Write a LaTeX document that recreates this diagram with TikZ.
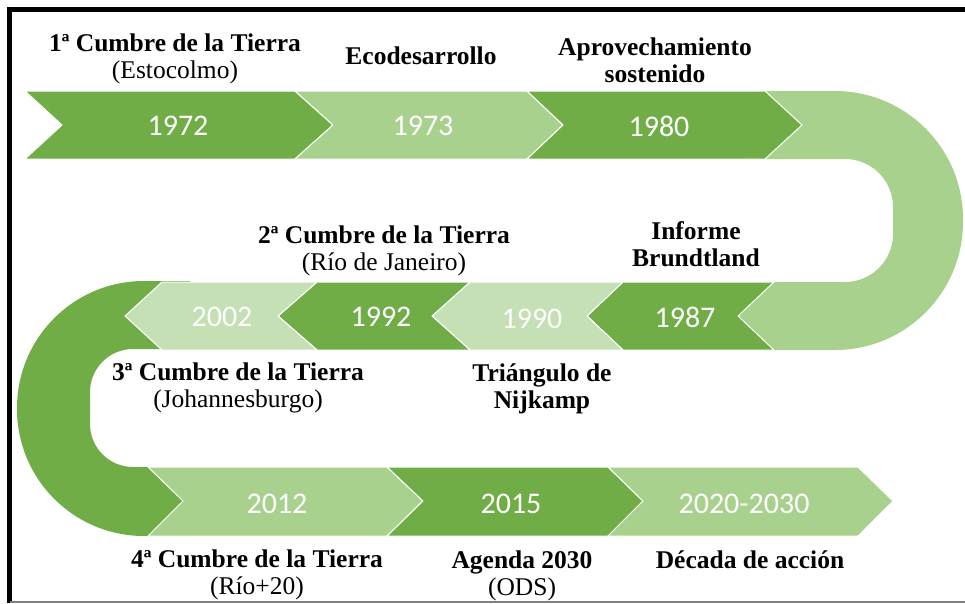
\documentclass[tikz,border=0pt]{standalone}
\usepackage{fontspec}
\setmainfont{Liberation Serif}
\newfontfamily\carlito{Carlito}
\definecolor{verdeosc}{HTML}{70AD47}
\definecolor{verdeclaro}{HTML}{A9D18E}
\definecolor{verdepal}{HTML}{C5E0B4}
\begin{document}
\begin{tikzpicture}[
    x=1pt, y=-1pt,
    oscuro/.style={fill=verdeosc, draw=white, line width=1pt, line join=miter},
    claro/.style={fill=verdeclaro, draw=white, line width=1pt, line join=miter},
    palido/.style={fill=verdepal, draw=white, line width=1pt, line join=miter},
    anio/.style={text=white, inner sep=0pt, font=\carlito\fontsize{30}{36}\selectfont},
    hito/.style={align=center, anchor=base, inner sep=0pt, font=\fontsize{25.5}{26.5}\selectfont\bfseries}
]
\useasboundingbox (0,0) rectangle (965,603);

% Marco
\draw[line width=4.5pt] (9.5,603) -- (9.5,9.5) -- (965,9.5);
\draw[gray, line width=1.5pt] (9.5,602) -- (965,602);

% Curva derecha
\begin{scope}
\clip (740,80) rectangle (965,360);
\fill[verdeclaro, even odd rule, rounded corners=128pt] (560,91) rectangle (963,350)
    [rounded corners=48pt] (560,159) rectangle (893,282);
\end{scope}

% Curva izquierda
\begin{scope}
\clip (0,270) rectangle (190,545);
\fill[verdeosc, even odd rule, rounded corners=127pt] (17,281) rectangle (420,536)
    [rounded corners=43pt] (90,349) rectangle (420,467);
\end{scope}

% Fila superior
\filldraw[oscuro] (25,91) -- (295,91) -- (333,125) -- (295,159) -- (25,159) -- (62,125) -- cycle;
\filldraw[claro] (295,91) -- (527,91) -- (563,125) -- (527,159) -- (295,159) -- (333,125) -- cycle;
\filldraw[oscuro] (527,91) -- (765,91) -- (802,125) -- (765,159) -- (527,159) -- (563,125) -- cycle;

% Fila central (hacia la izquierda)
\filldraw[oscuro] (587,316) -- (623,282) -- (774,282) -- (738,316) -- (774,350) -- (623,350) -- cycle;
\filldraw[palido] (432,316) -- (470,282) -- (623,282) -- (587,316) -- (623,350) -- (470,350) -- cycle;
\filldraw[oscuro] (278,316) -- (317,282) -- (470,282) -- (432,316) -- (470,350) -- (317,350) -- cycle;
\filldraw[palido] (125,316) -- (162,282) -- (317,282) -- (278,316) -- (317,350) -- (162,350) -- cycle;

% Fila inferior
\filldraw[claro] (148,467) -- (387,467) -- (423,501) -- (387,536) -- (148,536) -- (183,501) -- cycle;
\filldraw[oscuro] (387,467) -- (608,467) -- (643,501) -- (608,536) -- (387,536) -- (423,501) -- cycle;
\filldraw[claro] (608,467) -- (858,467) -- (893,501) -- (858,536) -- (608,536) -- (643,501) -- cycle;

% Años
\node[anio] (a1972) at (178,126) {1972};
\node[anio] (a1973) at (423,126) {1973};
\node[anio] (a1980) at (659,126) {1980};
\node[anio] (a1987) at (685,317) {1987};
\node[anio] (a1990) at (532,319) {1990};
\node[anio] (a1992) at (381,317) {1992};
\node[anio] (a2002) at (222,317) {2002};
\node[anio] (a2012) at (277,504) {2012};
\node[anio] (a2015) at (511,504) {2015};
\node[anio] (a2020) at (744,504) {2020-2030};

% Hitos (anclados en la linea de base de la ultima linea)
\node[hito] (estocolmo) at (175,78) {1ª Cumbre de la Tierra\\\mdseries(Estocolmo)};
\node[hito] (ecodes) at (421,64) {Ecodesarrollo};
\node[hito] (aprov) at (655,82) {Aprovechamiento\\sostenido};
\node[hito] (rio) at (384,270) {2ª Cumbre de la Tierra\\\mdseries(Río de Janeiro)};
\node[hito] (brundtland) at (696,266) {Informe\\Brundtland};
\node[hito] (johannes) at (238,407) {3ª Cumbre de la Tierra\\\mdseries(Johannesburgo)};
\node[hito] (nijkamp) at (542,408) {Triángulo de\\Nijkamp};
\node[hito] (rio20) at (257,594) {4ª Cumbre de la Tierra\\\mdseries(Río+20)};
\node[hito] (agenda) at (522,595) {Agenda 2030\\\mdseries(ODS)};
\node[hito] (decada) at (750,568) {Década de acción};
\end{tikzpicture}
\end{document}
